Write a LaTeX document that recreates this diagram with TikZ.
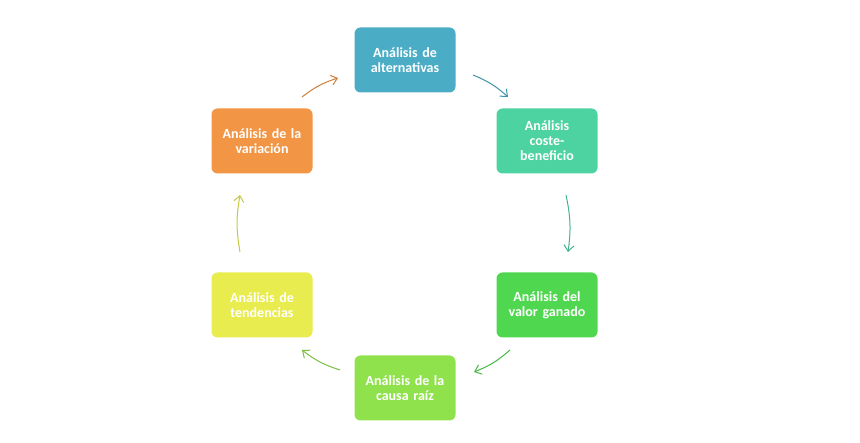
\documentclass[tikz,border=0pt]{standalone}
\usepackage{fontspec}
\setmainfont{Carlito}
\usetikzlibrary{arrows.meta}
\definecolor{k1}{HTML}{4BACC6}
\definecolor{k2}{HTML}{4DD3A2}
\definecolor{k3}{HTML}{4FD84F}
\definecolor{k4}{HTML}{90E24D}
\definecolor{k5}{HTML}{E8EC4E}
\definecolor{k6}{HTML}{F29544}
\begin{document}
\begin{tikzpicture}[x=1pt,y=-1pt,
 box/.style={rounded corners=6pt,minimum width=101pt,minimum height=65pt,text width=95pt,align=center,text=white,font=\bfseries\fontsize{14}{15}\selectfont,inner sep=2pt},
 arr/.style={-{Straight Barb[length=6pt,width=10pt]},line width=1pt,bend left=10}]
\useasboundingbox (0,0) rectangle (860,443);
\node[box,fill=k1] (a) at (405,60) {Análisis de\\alternativas};
\node[box,fill=k2] (b) at (547,141) {Análisis\\coste-\\beneficio};
\node[box,fill=k3] (c) at (547,305) {Análisis del\\valor ganado};
\node[box,fill=k4] (d) at (405,388) {Análisis de la\\causa raíz};
\node[box,fill=k5] (e) at (262,305) {Análisis de\\tendencias};
\node[box,fill=k6] (f) at (262,141) {Análisis de la\\variación};
\coordinate (a1) at (473,75); \coordinate (a2) at (508,97);
\coordinate (b1) at (566,195); \coordinate (b2) at (568,252);
\coordinate (c1) at (510,350); \coordinate (c2) at (474,372);
\coordinate (d1) at (340,370); \coordinate (d2) at (302,350);
\coordinate (e1) at (240,252); \coordinate (e2) at (240,195);
\coordinate (f1) at (302,97); \coordinate (f2) at (338,78);
\draw[arr,k1!85!black] (a1) to (a2);
\draw[arr,k2!85!black] (b1) to (b2);
\draw[arr,k3!85!black] (c1) to (c2);
\draw[arr,k4!85!black] (d1) to (d2);
\draw[arr,k5!85!black] (e1) to (e2);
\draw[arr,k6!85!black] (f1) to (f2);
\end{tikzpicture}
\end{document}
